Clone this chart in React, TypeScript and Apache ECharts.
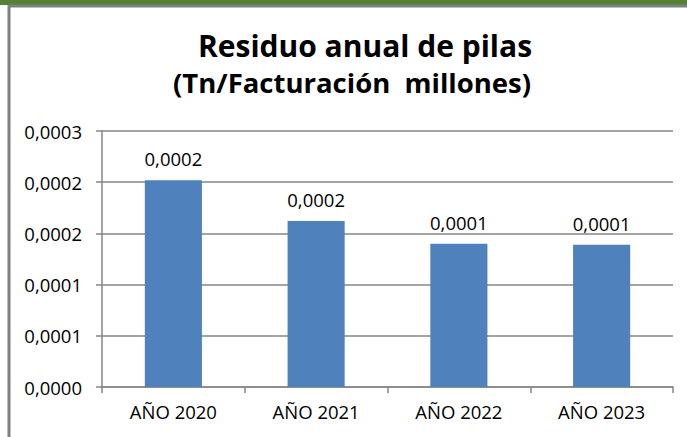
import React, { useEffect, useRef } from "react";
import * as echarts from "echarts";

const categories = ["AÑO 2020", "AÑO 2021", "AÑO 2022", "AÑO 2023"];
const values = [0.000202, 0.000162, 0.00014, 0.000139];
const titleLines = ["Residuo anual de pilas", "(Tn/Facturación  millones)"];

const fmt = (v: number) => (Math.round(v * 10000 + 1e-6) / 10000).toFixed(4).replace(".", ",");

export default function App() {
  const ref = useRef<HTMLDivElement>(null);
  useEffect(() => {
    if (!ref.current) return;
    const chart = echarts.init(ref.current, null, { renderer: "svg" });
    const font = "'Open Sans', Lato, sans-serif";
    const labelSize = 18.5;
    chart.setOption({
      animation: false,
      backgroundColor: "#ffffff",
      textStyle: { fontFamily: font },
      title: [
        {
          text: titleLines[0],
          left: 360,
          textAlign: "center",
          top: 22,
          textStyle: { fontFamily: font, fontWeight: "bold", fontSize: 30, lineHeight: 36, color: "#000000" },
        },
        {
          text: titleLines[1],
          left: 347,
          textAlign: "center",
          top: 59,
          textStyle: { fontFamily: font, fontWeight: "bold", fontSize: 27.5, lineHeight: 36, color: "#000000" },
        },
      ],
      graphic: [
        { type: "rect", shape: { x: 0, y: 0, width: 687, height: 5 }, style: { fill: "#548235" } },
        { type: "line", shape: { x1: 8, y1: 6, x2: 687, y2: 6 }, style: { stroke: "#808080", lineWidth: 3 } },
        { type: "line", shape: { x1: 9, y1: 5, x2: 9, y2: 437 }, style: { stroke: "#808080", lineWidth: 3 } },
      ],
      grid: { left: 102, right: 14, top: 131, bottom: 50 },
      xAxis: {
        type: "category",
        data: categories,
        axisLine: { lineStyle: { color: "#868686", width: 1.5 } },
        axisTick: { show: true, length: 6, lineStyle: { color: "#868686", width: 1.5 } },
        axisLabel: { fontSize: labelSize, color: "#000000", margin: 15, fontFamily: font },
      },
      yAxis: {
        type: "value",
        min: 0,
        max: 0.00025,
        interval: 0.00005,
        axisLine: { show: true, lineStyle: { color: "#868686", width: 1.5 } },
        axisTick: { show: true, length: 6, lineStyle: { color: "#868686", width: 1.5 } },
        splitLine: { show: true, lineStyle: { color: "#868686", width: 1.5 } },
        axisLabel: { fontSize: labelSize, color: "#000000", margin: 20, formatter: (v: number) => fmt(v), fontFamily: font },
      },
      series: [
        {
          type: "bar",
          data: values,
          barWidth: "40%",
          itemStyle: { color: "#4f81bd" },
          label: {
            show: true,
            position: "top",
            distance: 12,
            fontSize: labelSize,
            color: "#000000",
            fontFamily: font,
            formatter: (p: any) => fmt(p.value),
          },
        },
      ],
    });
    return () => chart.dispose();
  }, []);
  return <div ref={ref} style={{ position: "fixed", left: 0, top: 0, width: 687, height: 437 }} />;
}
